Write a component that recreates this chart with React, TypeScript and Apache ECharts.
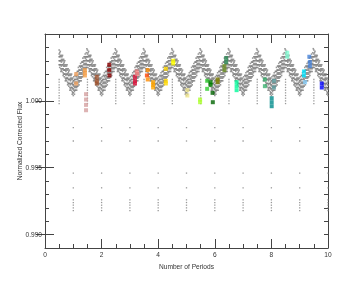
import React, { useEffect, useRef } from "react";
import * as echarts from "echarts";

// Trough (integer) positions of each repeated period
const cycleTroughs = [1, 2, 3, 4, 5, 6, 7, 8, 9, 10];

// One period of the folded light curve: [phase from trough, flux values...]
const profile: number[][] = [
  [-0.5, 1.0038, 1.0035, 1.0033, 1.003, 1.0027],
  [-0.48, 1.0036, 1.0033, 1.003, 1.0027, 1.0025],
  [-0.46, 1.0037, 1.0034, 1.003, 1.0027],
  [-0.44, 1.0033, 1.003, 1.0027, 1.0024, 1.0022],
  [-0.42, 1.0034, 1.0031, 1.0029, 1.0026, 1.0023],
  [-0.4, 1.0033, 1.003, 1.0027, 1.0024, 1.0022],
  [-0.38, 1.0034, 1.0031, 1.0027, 1.0024],
  [-0.36, 1.003, 1.0027, 1.0024, 1.0021, 1.0019],
  [-0.34, 1.0031, 1.0028, 1.0026, 1.0023, 1.002],
  [-0.32, 1.0029, 1.0026, 1.0023, 1.002, 1.0018],
  [-0.3, 1.003, 1.0027, 1.0023, 1.002],
  [-0.28, 1.0026, 1.0023, 1.002, 1.0017, 1.0015],
  [-0.26, 1.0027, 1.0024, 1.0022, 1.0019, 1.0016],
  [-0.24, 1.0026, 1.0023, 1.002, 1.0017, 1.0015],
  [-0.22, 1.0027, 1.0024, 1.002, 1.0017],
  [-0.2, 1.0023, 1.002, 1.0017, 1.0014, 1.0012],
  [-0.18, 1.0024, 1.0021, 1.0019, 1.0016, 1.0013],
  [-0.16, 1.0022, 1.0019, 1.0016, 1.0013, 1.0011],
  [-0.14, 1.0023, 1.002, 1.0016, 1.0013],
  [-0.12, 1.0019, 1.0016, 1.0013, 1.001, 1.0008],
  [-0.1, 1.002, 1.0017, 1.0015, 1.0012, 1.0009],
  [-0.08, 1.0019, 1.0016, 1.0013, 1.001, 1.0008],
  [-0.06, 1.002, 1.0017, 1.0013, 1.001],
  [-0.04, 1.0016, 1.0013, 1.001, 1.0007, 1.0005],
  [-0.02, 1.0017, 1.0014, 1.0012, 1.0009, 1.0006],
  [0.0, 1.0015, 1.0012, 1.0009, 1.0006, 1.0004],
  [0.02, 1.0018, 1.0015, 1.0011, 1.0008],
  [0.04, 1.0016, 1.0013, 1.001, 1.0007, 1.0005],
  [0.06, 1.0019, 1.0016, 1.0014, 1.0011, 1.0008],
  [0.08, 1.0019, 1.0016, 1.0013, 1.001, 1.0008],
  [0.1, 1.0021, 1.0018, 1.0014, 1.0011],
  [0.12, 1.0019, 1.0016, 1.0013, 1.001, 1.0008],
  [0.14, 1.0022, 1.0019, 1.0017, 1.0014, 1.0011],
  [0.16, 1.0022, 1.0019, 1.0016, 1.0013, 1.0011],
  [0.18, 1.0025, 1.0022, 1.0018, 1.0015],
  [0.2, 1.0023, 1.002, 1.0017, 1.0014, 1.0012],
  [0.22, 1.0026, 1.0023, 1.0021, 1.0018, 1.0015],
  [0.24, 1.0026, 1.0023, 1.002, 1.0017, 1.0015],
  [0.26, 1.0028, 1.0025, 1.0021, 1.0018],
  [0.28, 1.0026, 1.0023, 1.002, 1.0017, 1.0015],
  [0.3, 1.0029, 1.0026, 1.0024, 1.0021, 1.0018],
  [0.32, 1.0029, 1.0026, 1.0023, 1.002, 1.0018],
  [0.34, 1.0032, 1.0029, 1.0025, 1.0022],
  [0.36, 1.003, 1.0027, 1.0024, 1.0021, 1.0019],
  [0.38, 1.0033, 1.003, 1.0028, 1.0025, 1.0022],
  [0.4, 1.0033, 1.003, 1.0027, 1.0024, 1.0022],
  [0.42, 1.0035, 1.0032, 1.0028, 1.0025],
  [0.44, 1.0033, 1.003, 1.0027, 1.0024, 1.0022],
  [0.46, 1.0036, 1.0033, 1.0031, 1.0028, 1.0025],
  [0.48, 1.0039, 1.0033, 1.003, 1.0027, 1.0025],
];

// Column of dots hanging below each peak (half-integer positions)
const peakColumnFlux = [1.0016, 1.0014, 1.0012, 1.001, 1.0008, 1.0006, 1.0004, 1.0002, 1.0, 0.9998];
// Sparse low dots at each trough (integer positions)
const lowFlux = [0.998, 0.997, 0.9946, 0.9935, 0.9926, 0.9924, 0.9922, 0.992, 0.9918];

// Coloured event points: [x, flux, colourIndex]
const eventColors = [
  "#f4a460", "#f5a04a", "#d4a0a0", "#a0522d", "#8b0000", "#dc143c", "#f08080", "#ff4500",
  "#ff8c00", "#ffa500", "#ffd700", "#ffff00", "#f0e68c", "#adff2f", "#32cd32", "#008000",
  "#006400", "#808000", "#6b8e23", "#2e8b57", "#00fa9a", "#3cb371", "#5f9ea0", "#008b8b",
  "#7fffd4", "#4682d8", "#00e5ff", "#87cefa", "#0000ff",
];
const eventPoints: number[][] = [
  [1.1, 1.002, 0], [1.1, 1.0013, 0],
  [1.41, 1.0023, 1], [1.41, 1.0021, 1], [1.41, 1.0019, 1],
  [1.45, 1.0005, 2], [1.45, 1.0001, 2], [1.45, 0.9997, 2], [1.45, 0.9993, 2],
  [1.83, 1.0018, 3], [1.83, 1.0015, 3], [1.83, 1.0013, 3],
  [2.27, 1.0027, 4], [2.27, 1.0023, 4], [2.28, 1.0019, 4],
  [3.18, 1.0018, 5], [3.18, 1.0015, 5], [3.18, 1.0013, 5],
  [3.24, 1.0022, 6], [3.26, 1.002, 6],
  [3.6, 1.0019, 7],
  [3.63, 1.0023, 8], [3.63, 1.0016, 8],
  [3.82, 1.0014, 9], [3.82, 1.0012, 9], [3.82, 1.001, 9],
  [4.27, 1.0024, 10], [4.27, 1.0015, 10], [4.27, 1.0013, 10],
  [4.53, 1.003, 11], [4.53, 1.0028, 11],
  [5.03, 1.0008, 12], [5.03, 1.0004, 12],
  [5.48, 1.0001, 13], [5.48, 0.9999, 13],
  [5.73, 1.0015, 14], [5.73, 1.0009, 14],
  [5.85, 1.0014, 15], [5.85, 1.0012, 15],
  [5.92, 1.0006, 16], [5.93, 0.9999, 16],
  [6.1, 1.0016, 17], [6.1, 1.0014, 17],
  [6.34, 1.0026, 18], [6.34, 1.0023, 18],
  [6.4, 1.0032, 19], [6.4, 1.0029, 19],
  [6.77, 1.0014, 20], [6.77, 1.0011, 20], [6.77, 1.0008, 20],
  [7.77, 1.0016, 21], [7.77, 1.0011, 21],
  [8.09, 1.0015, 22], [8.09, 1.001, 22],
  [8.01, 1.0002, 23], [8.01, 0.9999, 23], [8.01, 0.9996, 23],
  [8.56, 1.0036, 24], [8.56, 1.0033, 24],
  [9.34, 1.0033, 25], [9.36, 1.0029, 25], [9.36, 1.0026, 25],
  [9.15, 1.0022, 26], [9.15, 1.0019, 26],
  [9.19, 1.0014, 27],
  [9.78, 1.0013, 28], [9.78, 1.001, 28],
];

const yMajorTicks = [0.99, 0.995, 1.0];

const FONT = "'Liberation Sans', Arial, Helvetica, sans-serif";
const AXIS_COLOR = "#444";
const TEXT_COLOR = "#333";

export default function App() {
  const ref = useRef<HTMLDivElement>(null);

  useEffect(() => {
    if (!ref.current) return;
    const chart = echarts.init(ref.current, undefined, { renderer: "svg" });

    const greyData: number[][] = [];
    cycleTroughs.forEach((n) => {
      profile.forEach((row) => {
        const x = n + row[0];
        if (x < 0.45 || x > 10) return;
        for (let i = 1; i < row.length; i++) greyData.push([x, row[i]]);
      });
    });
    const smallData: number[][] = [];
    cycleTroughs.forEach((n) => {
      peakColumnFlux.forEach((f) => smallData.push([n - 0.5, f]));
      lowFlux.forEach((f) => smallData.push([n, f]));
    });
    const eventData = eventPoints.map((p) => ({
      value: [p[0], p[1]],
      itemStyle: { color: eventColors[p[2]] },
    }));

    const xBase = {
      type: "value" as const,
      min: 0,
      max: 10,
      interval: 2,
      axisLine: { show: true, onZero: false, lineStyle: { color: AXIS_COLOR, width: 1 } },
      axisTick: { show: true, inside: true, length: 9, lineStyle: { color: AXIS_COLOR } },
      minorTick: { show: true, splitNumber: 4, length: 4, lineStyle: { color: AXIS_COLOR } },
      splitLine: { show: false },
    };
    const yMinor = {
      type: "value" as const,
      min: 0.989,
      max: 1.005,
      interval: 0.001,
      axisLine: { show: true, onZero: false, lineStyle: { color: AXIS_COLOR, width: 1 } },
      axisTick: { show: true, inside: true, length: 4, lineStyle: { color: AXIS_COLOR } },
      axisLabel: { show: false },
      splitLine: { show: false },
    };
    const yMajor = {
      type: "value" as const,
      min: 0.989,
      max: 1.005,
      interval: 0.001,
      axisLine: { show: false },
      axisTick: {
        show: true,
        inside: true,
        length: 9,
        customValues: yMajorTicks,
        lineStyle: { color: AXIS_COLOR },
      },
      splitLine: { show: false },
    };

    chart.setOption({
      animation: false,
      grid: { left: 45, right: 28, top: 34, bottom: 37 },
      xAxis: [
        {
          ...xBase,
          position: "bottom",
          name: "Number of Periods",
          nameLocation: "middle",
          nameGap: 10,
          nameTextStyle: { fontFamily: FONT, fontSize: 6.6, color: TEXT_COLOR },
          axisLabel: { show: true, margin: 3, fontFamily: FONT, fontSize: 6.6, color: TEXT_COLOR },
        },
        { ...xBase, position: "top", axisLabel: { show: false } },
      ],
      yAxis: [
        {
          ...yMinor,
          position: "left",
          name: "Normalized Corrected Flux",
          nameLocation: "middle",
          nameGap: 22,
          nameTextStyle: { fontFamily: FONT, fontSize: 6.6, color: TEXT_COLOR },
        },
        {
          ...yMajor,
          position: "left",
          axisLabel: {
            show: true,
            margin: 3,
            customValues: yMajorTicks,
            formatter: (v: number) => v.toFixed(3),
            fontFamily: FONT,
            fontSize: 6.6,
            color: TEXT_COLOR,
          },
        },
        { ...yMinor, position: "right" },
        { ...yMajor, position: "right", axisLabel: { show: false } },
      ],
      series: [
        {
          type: "scatter",
          xAxisIndex: 0,
          yAxisIndex: 0,
          data: greyData,
          symbol: "rect",
          symbolSize: 1.6,
          itemStyle: { color: "#7f7f7f" },
          silent: true,
        },
        {
          type: "scatter",
          xAxisIndex: 0,
          yAxisIndex: 0,
          data: smallData,
          symbol: "rect",
          symbolSize: 1.3,
          itemStyle: { color: "#808080" },
          silent: true,
        },
        {
          type: "scatter",
          xAxisIndex: 0,
          yAxisIndex: 0,
          data: eventData,
          symbol: "rect",
          symbolSize: 4,
          silent: true,
        },
      ],
    });

    return () => chart.dispose();
  }, []);

  return (
    <div
      ref={ref}
      style={{ position: "fixed", left: 0, top: 0, width: 356, height: 285 }}
    />
  );
}
